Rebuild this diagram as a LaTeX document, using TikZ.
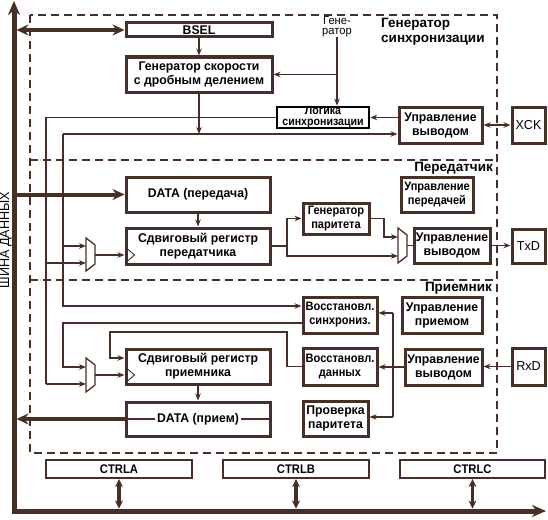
\documentclass[tikz,border=0pt]{standalone}
\usepackage{fontspec}
\setmainfont{Liberation Sans}[FakeStretch=0.97]
\newfontfamily\nfam{Liberation Sans}[FakeStretch=0.9]
\newfontfamily\wfam{Liberation Sans}
\usetikzlibrary{arrows.meta,calc}
\definecolor{br}{RGB}{69,47,38}
\newcommand\bxf{\fontsize{12.6}{14}\selectfont\bfseries}
\newcommand\sbxf{\nfam\fontsize{12.3}{14}\selectfont\bfseries}
\newcommand\Bx[7][]{\node[box,#1,minimum width={(#5-#3)*1pt},minimum height={(#6-#4)*1pt}] (#2) at ({(#3+#5)/2},{(#4+#6)/2}) {#7};}
\tikzset{
  box/.style={draw=br, line width=3pt, fill=white, inner sep=0pt, align=center, font=\bxf, text=black},
  sbox/.style={font=\sbxf},
  ctrlbox/.style={box, line width=2.2pt, font=\nfam\fontsize{12.5}{14}\selectfont\bfseries},
  ln/.style={draw=br, line width=1.1pt},
  arr/.style={ln, -{Stealth[length=7pt,width=5.5pt]}},
  darr/.style={ln, {Stealth[length=7pt,width=5.5pt]}-{Stealth[length=7pt,width=5.5pt]}},
  tarr/.style={draw=br, line width=4pt, -{Stealth[length=12pt,width=11pt]}},
  dtarr/.style={draw=br, line width=4pt, {Stealth[length=12pt,width=11pt]}-{Stealth[length=12pt,width=11pt]}},
  dcarr/.style={draw=br, line width=3.5pt, {Stealth[length=8pt,width=8pt]}-{Stealth[length=8pt,width=8pt]}},
  bus/.style={draw=br, line width=5pt, line join=miter, {Stealth[length=14pt,width=12pt]}-{Stealth[length=14pt,width=12pt]}},
  dsh/.style={draw=br, line width=2pt, dash pattern=on 8pt off 5pt},
  mux/.style={draw=br, line width=1.3pt, fill=white},
  lbl/.style={font=\wfam\fontsize{13.5}{15.5}\selectfont\bfseries, inner sep=0pt, text=black},
}
\begin{document}
\begin{tikzpicture}[x=1pt,y=-1pt]
\useasboundingbox (0,0) rectangle (548,519);
% dashed frame
\draw[dsh] (30,15) rectangle (497,453);
\draw[dsh] (30,160) -- (497,160);
\draw[dsh] (30,280) -- (497,280);
% bus
\coordinate (busT) at (14,1);
\coordinate (busC) at (14,511);
\coordinate (busE) at (546,511);
\draw[bus] (busT) -- (busC) -- (busE);
\node[rotate=90, font=\fontsize{13}{13}\selectfont, inner sep=0pt] (shina) at (6,240) {ШИНА ДАННЫХ};
% boxes
\Bx{bsel}{126}{23}{272}{37}{BSEL}
\Bx{gen}{126}{57}{272}{92}{Генератор скорости\\с дробным делением}
\Bx[draw=black,line width=2.5pt,font=\nfam\fontsize{11.8}{10.8}\selectfont\bfseries]{logic}{277}{107}{369}{128}{Логика\\синхронизации}
\Bx{uoutx}{399}{107}{482}{143}{Управление\\выводом}
\Bx[font=\fontsize{13}{14}\selectfont]{xck}{512}{107}{545}{143}{XCK}
\Bx{dtx}{126}{177}{270}{212}{DATA (передача)}
\Bx{shtx}{126}{228}{270}{264}{Сдвиговый регистр\\передатчика}
\Bx[sbox]{uprtx}{401}{177}{473}{212}{Управление\\передачей}
\Bx[sbox]{par}{303}{203}{369}{234}{Генератор\\паритета}
\Bx{uoutt}{414}{228}{490}{263}{Управление\\выводом}
\Bx[font=\fontsize{13}{14}\selectfont]{txd}{512}{229}{545}{263}{TxD}
\Bx[sbox]{rsync}{303}{297}{377}{333}{Восстановл.\\синхрониз.}
\Bx{uprrx}{402}{297}{482}{333}{Управление\\приемом}
\Bx[sbox]{rdata}{303}{348}{377}{385}{Восстановл.\\данных}
\Bx{uoutr}{405}{349}{482}{385}{Управление\\выводом}
\Bx[font=\fontsize{13}{14}\selectfont]{rxd}{512}{348}{545}{385}{RxD}
\Bx{shrx}{126}{349}{270}{384}{Сдвиговый регистр\\приемника}
\Bx{drx}{126}{402}{270}{436}{}
\Bx{parchk}{303}{401}{368}{436}{Проверка\\паритета}
\Bx[ctrlbox]{ctrla}{46}{460}{192}{478}{CTRLA}
\Bx[ctrlbox]{ctrlb}{223}{460}{369}{478}{CTRLB}
\Bx[ctrlbox]{ctrlc}{400}{460}{545}{478}{CTRLC}
\draw[ln] (drx.west) -- (drx.east);
\node[font=\bxf, inner sep=0pt, fill=white, inner xsep=2pt] (drxt) at (drx) {DATA (прием)};
% section labels
\node[lbl, anchor=north west, align=left] (lgen) at (381,18) {Генератор\\синхронизации};
\node[lbl, anchor=north east] (ltx) at (493,162) {Передатчик};
\node[lbl, anchor=north east] (lrx) at (492,282) {Приемник};
\node[font=\fontsize{11.5}{10}\selectfont, align=center, inner sep=0pt] (gl) at (337,27) {Гене-\\ратор};
% generator section
\draw[dtarr, shorten <=2.5pt] (bsel.west -| busC) -- (bsel.west);
\draw[arr] (bsel) -- (gen);
\coordinate (j1) at (199,134);
\draw[arr] (gen) -- (j1);
\coordinate (a63) at (63,134);
\coordinate (b63) at (63,306);
\draw[arr] (a63) -- (a63 -| uoutx.west);
\draw[arr] (a63) -- (b63) -- (b63 -| rsync.west);
\coordinate (a46) at (46,117.5);
\coordinate (b46) at (46,384);
\draw[ln] (logic.west) -- (a46) -- (b46);
\draw[arr] (gl.south) -- (gl.south |- logic.north);
\draw[arr] (gl.south |- gen.east) -- (gen.east);
\draw[arr] (logic.east -| uoutx.west) -- (logic.east);
\draw[darr] (uoutx.east) -- (uoutx.east -| xck.west);
% transmitter
\draw[tarr, shorten <=2.5pt] (dtx.west -| busC) -- (dtx.west);
\draw[arr] (dtx) -- (shtx);
\coordinate (mtxA) at (86,246);
\coordinate (mtxB) at (86,263);
\coordinate (mtxO) at (95,255);
\draw[arr] (mtxA -| a63) -- (mtxA);
\draw[arr] (mtxB -| a46) -- (mtxB);
\draw[mux] (86,238) -- (95,245) -- (95,264) -- (86,271) -- cycle;
\draw[arr] (mtxO) -- (mtxO -| shtx.west);
\draw[ln, line width=0.9pt] ($(mtxO -| shtx.west)+(3,-6)$) -- ++(7,6) -- ++(-7,6);
\coordinate (t1) at (287,246);
\draw[ln] (shtx.east) -- (t1);
\draw[arr] (t1) |- (par.west);
\coordinate (mt2A) at (398,237);
\coordinate (mt2B) at (398,256);
\coordinate (mt2O) at (407,245.5);
\draw[arr] (t1) |- (mt2B);
\coordinate (t2) at (384,218.5);
\draw[arr] (par.east) -- (t2) |- (mt2A);
\draw[mux] (398,228) -- (407,235) -- (407,256) -- (398,263) -- cycle;
\draw[ln] (mt2O) -- (mt2O -| uoutt.west);
\draw[arr] (uoutt.east) -- (uoutt.east -| txd.west);
% receiver
\coordinate (r1) at (63,323);
\coordinate (mrxA) at (86,367);
\coordinate (mrxB) at (86,384);
\coordinate (mrxO) at (95,375);
\draw[arr] (r1 -| rsync.west) -- (r1) |- (mrxA);
\draw[arr] (b46) -- (mrxB);
\draw[mux] (86,358) -- (95,365) -- (95,385) -- (86,392) -- cycle;
\draw[arr] (mrxO) -- (mrxO -| shrx.west);
\draw[ln, line width=0.9pt] ($(mrxO -| shrx.west)+(3,-6)$) -- ++(7,6) -- ++(-7,6);
\coordinate (d1) at (287,366.5);
\coordinate (d2) at (287,332);
\coordinate (d3) at (110,332);
\coordinate (d4) at (110,358);
\draw[arr] (rdata.west) -- (d1) -- (d2) -- (d3) -- (d4) -- (d4 -| shrx.west);
\draw[arr] (shrx) -- (drx);
\draw[tarr, shorten >=2.5pt] (drx.west) -- (drx.west -| busC);
\draw[arr] (rxd.west) -- (rxd.west -| uoutr.east);
\coordinate (v1) at (393,313);
\coordinate (v2) at (393,417);
\draw[arr] (uoutr.west) -- (uoutr.west -| rdata.east);
\draw[ln] (v1) -- (v2);
\draw[arr] (v1) -- (v1 -| rsync.east);
\draw[arr] (v2) -- (v2 -| parchk.east);
% control registers
\draw[dcarr, shorten >=2.5pt] (ctrla.south) -- (ctrla.south |- busC);
\draw[dcarr, shorten >=2.5pt] (ctrlb.south) -- (ctrlb.south |- busC);
\draw[dcarr, shorten >=2.5pt] (ctrlc.south) -- (ctrlc.south |- busC);
\end{tikzpicture}
\end{document}
